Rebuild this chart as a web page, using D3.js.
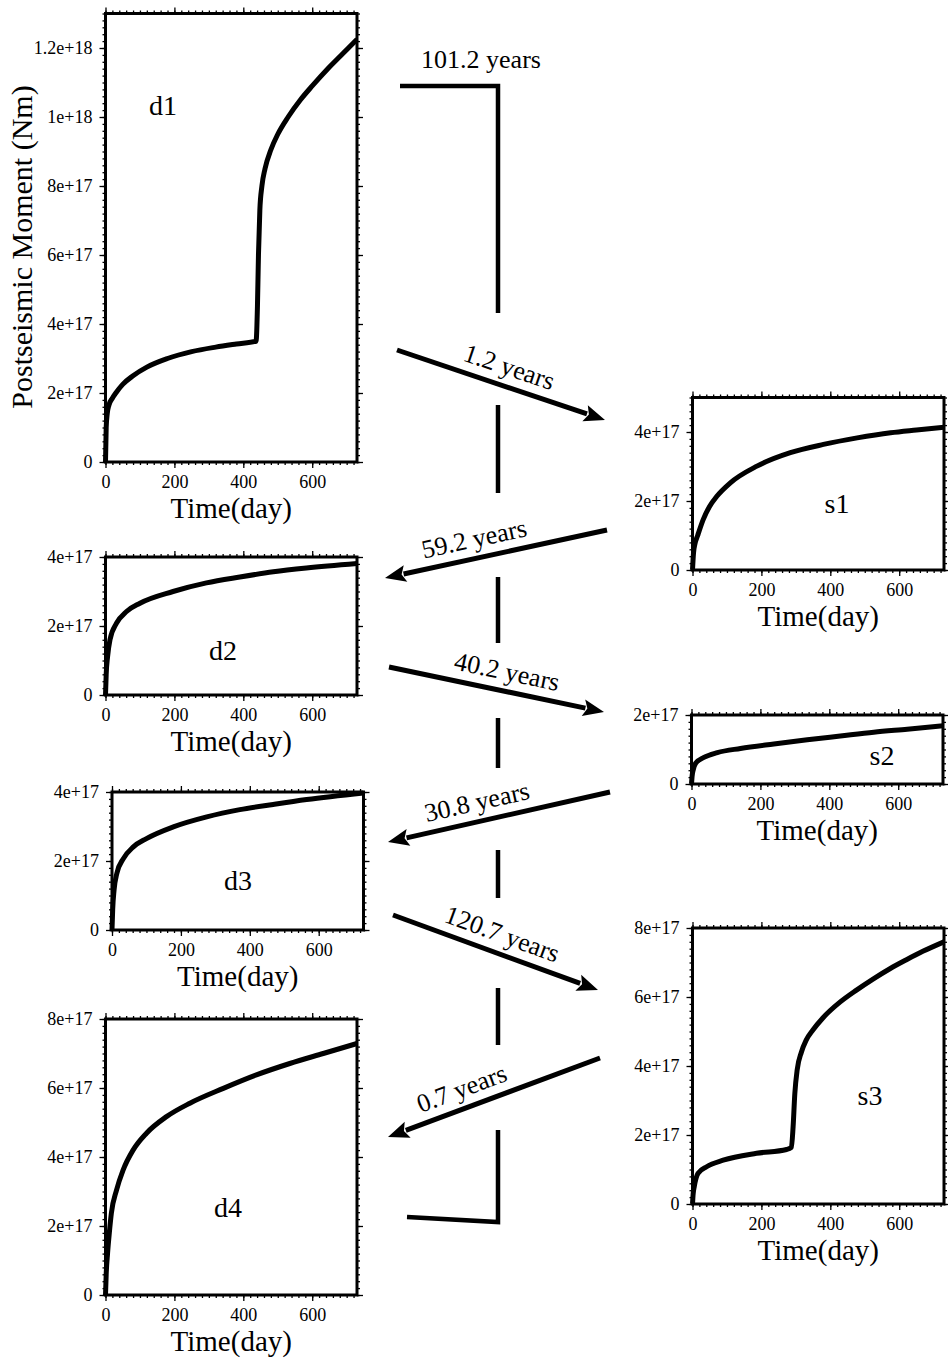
<!DOCTYPE html>
<html>
<head>
<meta charset="utf-8">
<script src="https://cdn.jsdelivr.net/npm/d3@7"></script>
<style>
  body { margin: 0; background: #fff; }
  svg text { font-family: "Liberation Serif", "Times New Roman", serif; fill: #000; }
</style>
</head>
<body>
<svg id="chart" width="948" height="1360"></svg>
<script>
// Postseismic moment curves, time in days, moment in units of 1e17 Nm
const d1Days   = [0, 2, 5, 10, 20, 30, 50, 80, 120, 180, 250, 320, 380, 437, 441, 444, 448, 454, 463, 480, 500, 530, 566, 600, 650, 700, 730];
const d1Moment = [0, 1.0, 1.4, 1.65, 1.85, 2.0, 2.25, 2.5, 2.75, 3.0, 3.2, 3.33, 3.42, 3.5, 4.5, 6.0, 7.3, 8.0, 8.5, 9.05, 9.5, 10.0, 10.5, 10.9, 11.45, 11.95, 12.25];

const s1Days   = [0, 3, 7, 15, 31, 50, 70, 109, 187, 284, 380, 478, 575, 650, 730];
const s1Moment = [0, 0.5, 0.75, 1.0, 1.46, 1.85, 2.13, 2.52, 3.01, 3.4, 3.64, 3.83, 3.98, 4.06, 4.14];

const d2Days   = [0, 2, 6, 13, 32, 61, 100, 196, 293, 390, 487, 583, 730];
const d2Moment = [0, 0.6, 1.11, 1.6, 2.08, 2.42, 2.66, 3.0, 3.25, 3.42, 3.57, 3.68, 3.81];

const s2Days   = [0, 2, 5, 12, 36, 75, 142, 239, 336, 432, 529, 626, 730];
const s2Moment = [0, 0.25, 0.41, 0.6, 0.77, 0.91, 1.03, 1.16, 1.28, 1.39, 1.5, 1.59, 1.69];

const d3Days   = [0, 2, 6, 14, 33, 62, 100, 178, 275, 371, 468, 565, 730];
const d3Moment = [0, 0.6, 1.16, 1.64, 2.07, 2.41, 2.65, 2.99, 3.28, 3.49, 3.64, 3.78, 3.97];

const s3Days   = [0, 2, 5, 16, 41, 89, 186, 273, 287, 292, 297, 304, 316, 330, 350, 379, 428, 476, 524, 573, 621, 670, 730];
const s3Moment = [0, 0.3, 0.5, 0.89, 1.08, 1.27, 1.47, 1.58, 1.64, 2.24, 3.2, 3.9, 4.4, 4.75, 5.05, 5.4, 5.85, 6.2, 6.52, 6.82, 7.08, 7.33, 7.6];

const d4Days   = [0, 2, 6, 11, 17, 32, 51, 80, 119, 177, 245, 342, 438, 535, 632, 730];
const d4Moment = [0, 0.6, 1.21, 1.79, 2.37, 3.04, 3.62, 4.2, 4.69, 5.17, 5.56, 5.99, 6.38, 6.71, 7.0, 7.29];

const xTicks = [0, 200, 400, 600];
const recurrenceLabels = ["1.2 years", "59.2 years", "40.2 years", "30.8 years", "120.7 years", "0.7 years"];
const cycleLabel = "101.2 years";

// panel layout
const panels = [
  { name: "d1", days: d1Days, m: d1Moment, ymax: 13, left: 105.5, bottom: 462, lx: 163, ly: 115 },
  { name: "s1", days: s1Days, m: s1Moment, ymax: 5,  left: 692.5, bottom: 570, lx: 837, ly: 513 },
  { name: "d2", days: d2Days, m: d2Moment, ymax: 4,  left: 105.5, bottom: 695, lx: 223, ly: 660 },
  { name: "s2", days: s2Days, m: s2Moment, ymax: 2,  left: 691.5, bottom: 784, lx: 882, ly: 765 },
  { name: "d3", days: d3Days, m: d3Moment, ymax: 4,  left: 112,   bottom: 930, lx: 238, ly: 890 },
  { name: "s3", days: s3Days, m: s3Moment, ymax: 8,  left: 692.5, bottom: 1204, lx: 870, ly: 1105 },
  { name: "d4", days: d4Days, m: d4Moment, ymax: 8,  left: 105.5, bottom: 1295, lx: 228, ly: 1217 }
];

const W = 251.5;          // plot width in px (730 days)
const pxPerUnit = 34.5;   // px per 1e17 Nm
const tickFont = 18;
const serif = '"Liberation Serif", "Times New Roman", serif';

const svg = d3.select("#chart");

function fmtMoment(v) {
  if (v === 0) return "0";
  return Number((v * 1e17).toPrecision(3)).toExponential();
}

panels.forEach(p => {
  const h = p.ymax * pxPerUnit;
  const top = p.bottom - h;
  const g = svg.append("g").attr("transform", `translate(${p.left},${top})`);

  const x = d3.scaleLinear().domain([0, 730]).range([0, W]);
  const y = d3.scaleLinear().domain([0, p.ymax]).range([h, 0]);

  const minorX = d3.range(0, 731, 20);
  const minorY = d3.range(0, p.ymax + 1e-9, 0.2);
  const majorY = d3.range(0, p.ymax + 1e-9, 2);

  const addAxis = (axis, tr) => {
    const a = g.append("g").attr("transform", tr).call(axis)
      .attr("font-family", serif).attr("font-size", tickFont);
    a.select(".domain").remove();
    a.selectAll("line").attr("stroke", "#000").attr("stroke-width", 1.3);
    a.selectAll("text")
      .attr("font-family", serif)
      .style("font-size", tickFont + "px")
      .attr("fill", "#000");
    return a;
  };
  // minor ticks on all four sides
  addAxis(d3.axisBottom(x).tickValues(minorX).tickSize(3).tickFormat(""), `translate(0,${h})`);
  addAxis(d3.axisTop(x).tickValues(minorX).tickSize(3).tickFormat(""), "translate(0,0)");
  addAxis(d3.axisLeft(y).tickValues(minorY).tickSize(3).tickFormat(""), "translate(0,0)");
  addAxis(d3.axisRight(y).tickValues(minorY).tickSize(3).tickFormat(""), `translate(${W},0)`);

  // major ticks
  addAxis(d3.axisBottom(x).tickValues(xTicks).tickSize(6).tickPadding(7), `translate(0,${h})`);
  addAxis(d3.axisTop(x).tickValues(xTicks).tickSize(6).tickFormat(""), "translate(0,0)");
  addAxis(d3.axisLeft(y).tickValues(majorY).tickSize(6).tickPadding(7).tickFormat(fmtMoment), "translate(0,0)");
  addAxis(d3.axisRight(y).tickValues(majorY).tickSize(6).tickFormat(""), `translate(${W},0)`);

  // curve
  const pts = p.days.map((d, i) => [d, p.m[i]]);
  g.append("path")
    .datum(pts)
    .attr("d", d3.line().x(d => x(d[0])).y(d => y(d[1])).curve(d3.curveMonotoneX))
    .attr("fill", "none")
    .attr("stroke", "#000")
    .attr("stroke-width", 5)
    .attr("stroke-linejoin", "round");

  // frame
  g.append("rect")
    .attr("width", W).attr("height", h)
    .attr("fill", "none").attr("stroke", "#000").attr("stroke-width", 3);

  // x title
  g.append("text")
    .attr("x", W / 2).attr("y", h + 56)
    .attr("text-anchor", "middle")
    .style("font-size", "29px")
    .text("Time(day)");

  // panel name
  svg.append("text")
    .attr("x", p.lx).attr("y", p.ly)
    .attr("text-anchor", "middle")
    .style("font-size", "28px")
    .text(p.name);
});

// y title
svg.append("text")
  .attr("transform", "translate(32,247) rotate(-90)")
  .attr("text-anchor", "middle")
  .style("font-size", "30px")
  .text("Postseismic Moment (Nm)");

// ---- earthquake cycle diagram ----
const lineX = 498;
const dashes = [[405, 493], [577, 643], [718, 768], [850, 898], [988, 1045]];
const ink = "#000";

svg.append("polyline")
  .attr("points", [[400, 86], [lineX, 86], [lineX, 313]].join(" "))
  .attr("fill", "none").attr("stroke", ink).attr("stroke-width", 4.5)
  .attr("stroke-linejoin", "miter");
svg.append("polyline")
  .attr("points", [[lineX, 1130], [lineX, 1222], [407, 1217]].join(" "))
  .attr("fill", "none").attr("stroke", ink).attr("stroke-width", 4.5)
  .attr("stroke-linejoin", "miter");
svg.selectAll("line.dash")
  .data(dashes)
  .join("line")
  .attr("class", "dash")
  .attr("x1", lineX).attr("x2", lineX)
  .attr("y1", d => d[0]).attr("y2", d => d[1])
  .attr("stroke", ink).attr("stroke-width", 4.5);

svg.append("text")
  .attr("x", 481).attr("y", 68)
  .attr("text-anchor", "middle")
  .style("font-size", "26px")
  .text(cycleLabel);

// arrows between panels: start, end, label position along line
const arrows = [
  { a: [397, 350], b: [605, 420], t: 0.51 },
  { a: [607, 530], b: [385, 578], t: 0.58 },
  { a: [389, 667], b: [604, 712], t: 0.53 },
  { a: [610, 792], b: [388, 842], t: 0.58 },
  { a: [393, 915], b: [598, 990], t: 0.50 },
  { a: [600, 1058], b: [388, 1137], t: 0.62 }
];

arrows.forEach((ar, i) => {
  const dx = ar.b[0] - ar.a[0], dy = ar.b[1] - ar.a[1];
  const len = Math.hypot(dx, dy);
  const ux = dx / len, uy = dy / len;
  const headLen = 21, headHalf = 8.5;
  const base = [ar.b[0] - ux * headLen, ar.b[1] - uy * headLen];
  svg.append("line")
    .attr("x1", ar.a[0]).attr("y1", ar.a[1])
    .attr("x2", base[0] + ux * 2).attr("y2", base[1] + uy * 2)
    .attr("stroke", ink).attr("stroke-width", 5);
  svg.append("polygon")
    .attr("points", [
      ar.b,
      [base[0] - uy * headHalf, base[1] + ux * headHalf],
      [base[0] + ux * 4, base[1] + uy * 4],
      [base[0] + uy * headHalf, base[1] - ux * headHalf]
    ].join(" "))
    .attr("fill", ink);

  // label sits above the line, reading left to right
  let ang = Math.atan2(dy, dx) * 180 / Math.PI;
  if (ang > 90) ang -= 180;
  if (ang < -90) ang += 180;
  const px = ar.a[0] + dx * ar.t, py = ar.a[1] + dy * ar.t;
  const r = ang * Math.PI / 180;
  const off = 11;
  svg.append("text")
    .attr("transform", `translate(${px + Math.sin(r) * off},${py - Math.cos(r) * off}) rotate(${ang})`)
    .attr("text-anchor", "middle")
    .style("font-size", "26px")
    .text(recurrenceLabels[i]);
});
</script>
</body>
</html>
